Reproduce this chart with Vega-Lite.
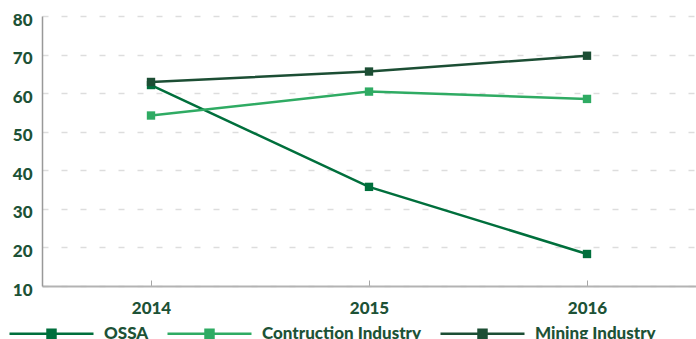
{
  "$schema": "https://vega.github.io/schema/vega-lite/v6.json",
  "width": 654,
  "height": 270,
  "autosize": "none",
  "padding": {"left": 42, "top": 16, "right": 0, "bottom": 53},
  "background": "#ffffff",
  "config": {
    "view": {"stroke": null},
    "font": "Lato",
    "axis": {"labelFont": "Lato", "labelFontWeight": 900, "labelFontSize": 17, "labelColor": "#1d5236"},
    "legend": {"labelFont": "Lato", "labelFontWeight": 900, "labelFontSize": 17, "labelColor": "#1d5236"}
  },
  "data": {
    "values": [
      {"year": "2014", "series": "OSSA", "value": 62.1},
      {"year": "2015", "series": "OSSA", "value": 35.7},
      {"year": "2016", "series": "OSSA", "value": 18.3},
      {"year": "2014", "series": "Contruction Industry", "value": 54.2},
      {"year": "2015", "series": "Contruction Industry", "value": 60.4},
      {"year": "2016", "series": "Contruction Industry", "value": 58.5},
      {"year": "2014", "series": "Mining Industry", "value": 62.9},
      {"year": "2015", "series": "Mining Industry", "value": 65.6},
      {"year": "2016", "series": "Mining Industry", "value": 69.7}
    ]
  },
  "encoding": {
    "x": {
      "field": "year",
      "type": "ordinal",
      "scale": {"type": "point", "padding": 0.5},
      "axis": {
        "title": null,
        "labelAngle": 0,
        "domainColor": "#b3b3b3",
        "domainWidth": 2,
        "tickColor": "#a6a6a6",
        "tickSize": -6,
        "labelPadding": 20,
        "grid": false
      }
    },
    "y": {
      "field": "value",
      "type": "quantitative",
      "scale": {"domain": [10, 80], "nice": false, "zero": false},
      "axis": {
        "title": null,
        "values": [10, 20, 30, 40, 50, 60, 70, 80],
        "domainColor": "#999999",
        "domainWidth": 1.5,
        "ticks": false,
        "labelPadding": 10,
        "labelOffset": 4,
        "grid": true,
        "gridColor": "#dddddd",
        "gridWidth": 1.5,
        "gridDash": [6, 13]
      }
    },
    "color": {
      "field": "series",
      "type": "nominal",
      "sort": ["OSSA", "Contruction Industry", "Mining Industry"],
      "scale": {
        "domain": ["OSSA", "Contruction Industry", "Mining Industry"],
        "range": ["#006f3c", "#2fab63", "#1c4e34"]
      },
      "legend": {
        "title": null,
        "orient": "none",
        "direction": "horizontal",
        "legendX": -34,
        "legendY": 274,
        "symbolType": "M-1,0H1M-0.095,-0.095H0.095V0.095H-0.095Z",
        "symbolSize": 7056,
        "symbolStrokeWidth": 2.5,
        "labelOffset": 9,
        "columnPadding": 13,
        "encode": {
          "symbols": {"update": {"fill": {"scale": "color", "field": "value"}}}
        }
      }
    }
  },
  "layer": [
    {"mark": {"type": "line", "strokeWidth": 2.5}},
    {"mark": {"type": "point", "shape": "square", "filled": true, "opacity": 1, "size": 70}}
  ]
}
